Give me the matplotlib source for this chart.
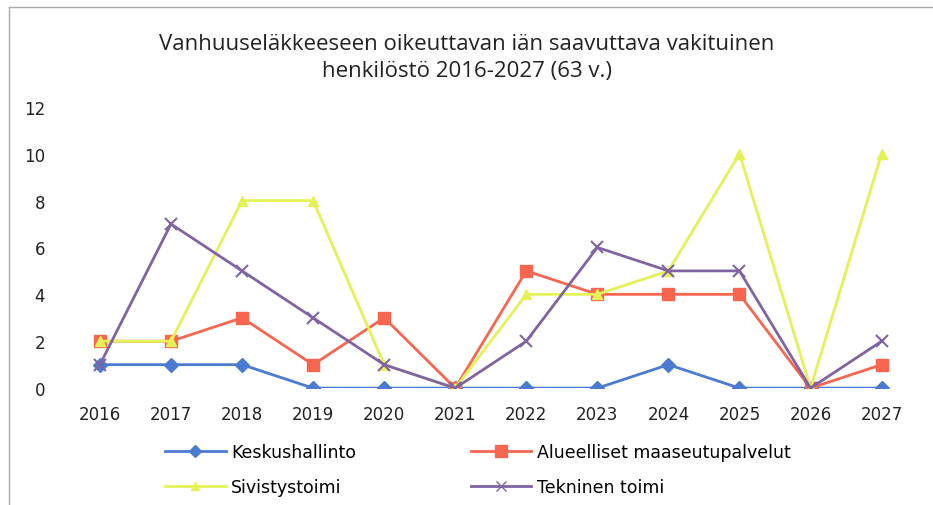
import matplotlib
matplotlib.use("Agg")
import matplotlib.pyplot as plt
from matplotlib.lines import Line2D

years = ["2016", "2017", "2018", "2019", "2020", "2021",
         "2022", "2023", "2024", "2025", "2026", "2027"]
keskushallinto = [1, 1, 1, 0, 0, 0, 0, 0, 1, 0, 0, 0]
alueelliset = [2, 2, 3, 1, 3, 0, 5, 4, 4, 4, 0, 1]
sivistystoimi = [2, 2, 8, 8, 1, 0, 4, 4, 5, 10, 0, 10]
tekninen = [1, 7, 5, 3, 1, 0, 2, 6, 5, 5, 0, 2]

series = [
    ("Keskushallinto", keskushallinto, "#4a7bd0", "D", 7),
    ("Alueelliset maaseutupalvelut", alueelliset, "#f86650", "s", 9),
    ("Sivistystoimi", sivistystoimi, "#e4f257", "^", 7),
    ("Tekninen toimi", tekninen, "#8064a2", "x", 8),
]

fig = plt.figure(figsize=(9.33, 5.06), dpi=100)
ax = fig.add_axes([0.069, 0.231, 0.914, 0.556])

x = list(range(len(years)))
handles = {}
for name, vals, col, mk, ms in series:
    ax.plot(x, vals, color=col, linewidth=2, marker=mk, markersize=ms,
            markeredgecolor=col, markeredgewidth=1.5 if mk == "x" else 1)
    handles[name] = Line2D([], [], color=col, linewidth=2, marker=mk,
                           markersize=ms - 1, markeredgecolor=col)

ax.set_xlim(-0.5, len(years) - 0.5)
ax.set_ylim(0, 12)
ax.set_yticks(range(0, 13, 2))
ax.set_xticks(x)
ax.set_xticklabels(years)
for s in ax.spines.values():
    s.set_visible(False)
ax.tick_params(length=0, labelsize=12, colors="#222222")
ax.tick_params(axis="y", pad=14)
ax.tick_params(axis="x", pad=12)

fig.text(0.5, 0.885, "Vanhuuseläkkeeseen oikeuttavan iän saavuttava vakituinen\nhenkilöstö 2016-2027 (63 v.)",
         ha="center", va="center", fontsize=16, family="Open Sans",
         linespacing=1.4, color="#222222")

# legend fills column-wise, so order gives rows: Kesk/Alue, Sivis/Tekn
order = ["Keskushallinto", "Sivistystoimi", "Alueelliset maaseutupalvelut", "Tekninen toimi"]
fig.legend([handles[n] for n in order], order, ncol=2, loc="center",
           bbox_to_anchor=(0.512, 0.07), frameon=False, fontsize=12.5,
           handlelength=3.5, columnspacing=6.6, labelspacing=1.0,
           handletextpad=0.3)

# scanned frame edges
fig.add_artist(Line2D([0.01, 1.0], [0.985, 0.985], color="#aaaaaa", linewidth=1))
fig.add_artist(Line2D([0.01, 0.01], [0.0, 0.985], color="#aaaaaa", linewidth=1))

fig.savefig("out.png", dpi=100, facecolor="white")
